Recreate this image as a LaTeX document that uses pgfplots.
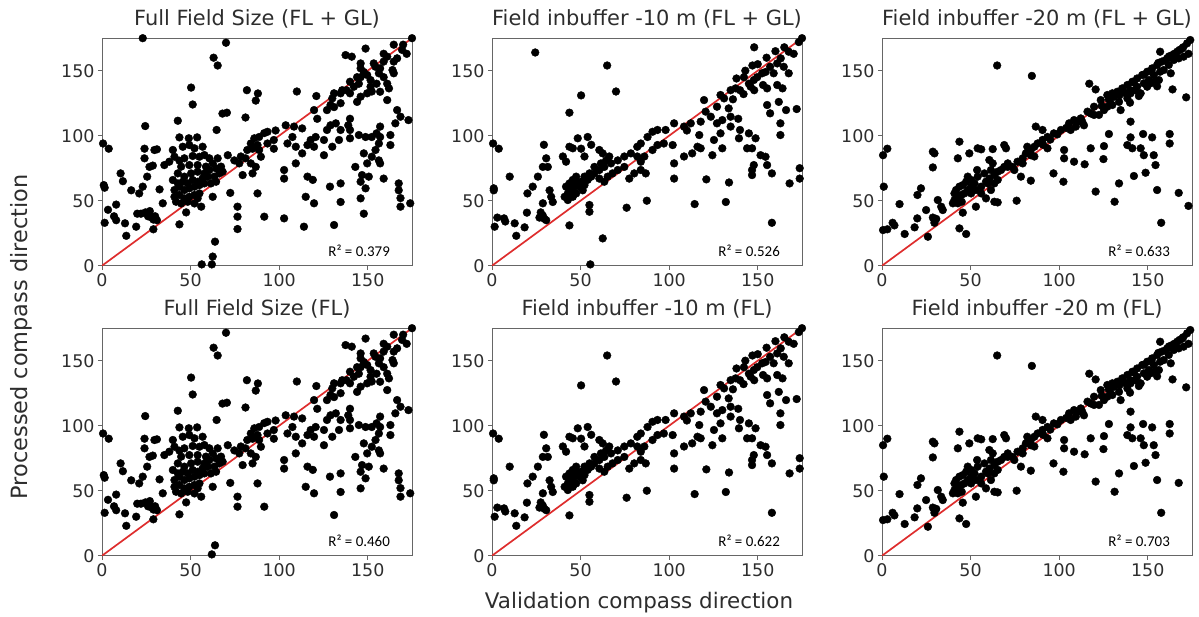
\documentclass[border=0pt]{standalone}
\usepackage{pgfplots}
\usepackage{pgfplotstable}
\pgfplotsset{compat=1.18}
\usepackage{fontspec}
\setmainfont{DejaVu Sans}
\newfontfamily\carlito{Carlito}
\definecolor{fitred}{RGB}{222,45,45}
\definecolor{txt}{RGB}{45,45,45}

% ---------- Panel 1 / 4 common ----------
\pgfplotstableread{
x y
0.6 94
3.8 90
1 62
1.5 60
1.5 33
3.4 43
6.8 38
8 35
8 47
10.5 71
11.8 65
13 32.6
13.7 23
16.5 58
19.3 30
19.9 40
21 55.6
23 60.8
22 40
24 90
24 82.6
24.5 41
25.5 68.5
26.8 76
26 38
27 42
28 37
29 35.5
30 38
31 35
29 28
28.7 77
29.6 89
31 89.5
32.5 58.7
34.3 48
35.2 77.4
38 80
40 89
42.8 111.5
24.4 107.4
43.7 98.7
49 98
53.7 98.7
45.6 91.5
49.3 92.8
52.2 90.3
56.8 91.5
40.9 83.8
43.7 80.8
46.5 82.6
51.2 84.4
55 83.8
57.8 85.1
60.6 82.6
44.7 76.2
49.3 77.4
54 77.4
58.7 76.2
62.5 78.7
65.3 82.6
42.8 71
46.5 68.5
50.3 71
54 72.3
57.8 71
60.6 73.6
64.4 74.9
67.2 76.2
40 65.9
42.8 63.3
45.6 64.6
48.4 63.3
51.2 65.9
54 64.6
56.8 67.2
59.7 68.5
63.4 68.5
66.2 71
68.1 72.3
40.9 58.2
43.7 60.8
46.5 58.2
49.3 59.5
52.2 60.8
55 62
57.8 63.3
61.5 63.3
64.4 64.6
40.9 53
43.7 54.4
46.5 51.8
49.3 53
52.2 54.4
55 55.6
41.8 49.2
44.7 47.9
48.4 49.2
52.2 47.9
54 51.8
47.5 41
62.5 53
56 45.4
72.4 56
76.5 45.4
76.5 37.7
43.7 31.8
50.3 137
51.2 124
63 160
65.3 154
70 171.5
81.8 135
88 132.5
86.8 127
68 117
70.5 117.7
81 114
64.7 104.4
71 85
74.7 81
78.4 84
77.5 78.7
79.4 69.7
82 89
84 94
86 98
88.7 99
91.6 102
93.4 103
87.8 92.8
85 90
81 82.6
84 78.7
88.7 89
89.7 83.8
86.8 76
85 71
87.8 55.6
98 104
97 96.7
97 90
93.4 94
103.7 108
108.4 107
113 105.6
104.7 94
107.5 99
109.4 91.5
102.8 73.6
102.8 67
109.4 78.7
113 86.4
116 92.8
117.8 96.7
120.6 99
116 68.5
119 66
115 53
119.7 48
91.6 37.7
110 134
121 130.5
119.7 119.7
121.5 113
127 119.7
129 123.6
130 128.7
131 132.6
134.7 132.6
135.6 135
138 135
140 132.6
142.2 137.7
145 140
146 145
147.8 149
149.7 146.7
151.6 142.8
146 151.8
148.8 167
154.4 153
157 151.8
156.3 148
159 157
161 160.8
159 163
164.7 170
169.4 166
172 163
164.7 157
164 150.5
166.6 159.5
137.5 162
141 160.8
146 155.6
157 133.8
162 136.4
161 127.4
166.6 119.7
173 112
168.5 114.6
165.6 109.5
157 107
155 101.8
152.3 99
157 99
162.8 100.5
162.8 92.8
156.3 94
154.4 89
152.3 83.8
156.3 81
157 78.7
149.7 78.7
147.8 86.4
148.8 99
145 100.5
143 76
146.8 69.7
150.6 68.5
146 64.6
148.8 59.5
146 51.8
159 67
167.5 63.3
167.5 58
168.5 52
168.5 45.4
174 48
134.7 63.3
134.7 49
131 31.3
128.7 60.8
125.3 85
130 91.5
133.8 96.7
140 98
139 108
140 113
140 104.4
134.7 104.4
132 109.5
129 108
127 104.4
125.3 96.7
119.7 91.5
131 122
134.7 125
144 126
146 130
149.7 132.6
152.3 134
155 140
151.6 137.7
140 141.5
144 145
153.4 155.6
159 145
161 140
164.7 148
175 175
170 170
}\tA
\pgfplotstableread{
x y
23 175
63.8 18.5
62.5 7
56.3 1
62 1
76.5 28.2
114 30
102.8 36.4
147.8 40
}\tAone
\pgfplotstableread{
x y
63.8 8
62 1
}\tAfour

% ---------- Panel 2 / 5 common ----------
\pgfplotstableread{
x y
65 154
70 134
50.3 131
147 154
0.6 94
3.8 90
1 59.5
1 58
1.5 30
3 37
6.8 36.4
7.5 34
10 68.5
12.8 32.6
13.7 23
18.4 29.5
19.7 40.8
20 55.6
23 60.8
25.9 68.5
28.7 76
29.3 93
30.6 82.6
31.5 76
28.7 48
27.5 41
29.6 36
30.6 35
28.7 38.5
26.8 37
32.5 58
33.4 53
34.3 49
40 84
41.8 80
43.7 91.5
45.6 90.3
48.4 98
54 99
50.3 90
52.2 84
56 93
60.6 89
62.5 86.4
66.2 84
43.7 31
55 46.7
55 41.5
76 44.6
87.4 50
102.8 67
102.8 78.7
108.4 84
113 86.4
121 66.4
114.4 47.4
132 49
133.8 64
117 100.5
116 91.5
117.8 90.3
124.4 85
125.3 96.7
130 90.3
134.7 107
139 113
140 104.4
145 101.8
139.4 98
144 90.3
146.8 90.3
148.8 98
151.6 85
154.4 83.8
155.3 77.4
147.8 77.4
146.8 73.6
146.8 69.7
158 71
158 33
168 63.3
173.7 75
173.7 67
172 120.5
162.8 100.5
162.8 109.5
166 119.7
161.9 126
155.3 123.6
157 117.2
155.3 136.4
161 139
164 136.4
167.5 148
170.3 163
173.2 172
167.5 164.6
175 175
41 53
42.8 55.6
44.7 58
46.5 60.8
48.4 63.3
50.3 64.6
52.2 62
54 66
56 68.5
57.8 71
60.6 73.6
63.4 76
67.2 78.7
71 81
74.7 84
78.4 86.4
82 91.5
84 94
87.8 99
90.6 103
93.4 104.4
98 104.4
102.8 109.5
108.4 107
112.2 109.5
110 104
119.7 127.4
120.6 118.5
123.5 114.6
127 122.3
129 131.3
131 128.7
133.6 121
134.7 135
137.5 136.4
140 135
142.2 145
145 140
146 137.7
147.8 142.8
149.7 145
152.5 148
154.4 149
157 153
159 148
161 155.6
163 159.5
164.7 153
127 109.5
130 112
134.7 114.6
129 101.8
117.8 110.8
41.8 60.8
43.7 63.3
45.6 66
47.5 68.5
49.3 60.8
51.2 58
42.8 50.5
45.6 53
47.5 55.6
52.2 68.5
55 71
57.8 76
61.5 78.7
64.4 81
60.6 67
63.4 64.6
65.3 68.5
68 71
71 73.6
74.7 76
77.5 67
84 73.6
86 84
84 80
86.8 71
80.3 71
82 84
90.6 89
93.4 92.8
97 94
102 92.8
150 155
155 160
160 165
165 168
138 144
143 150
136 128
142 132
148 135
153 139
}\tB
\pgfplotstableread{
x y
24.4 164
43.7 117.7
148 168
55.5 1
62.5 21
}\tBtwo

% ---------- Panel 3 / 6 common ----------
\pgfplotstableread{
x y
65 154
84.6 146
117 140
120.6 135.6
163 148
164 135.6
171.7 129.5
157 164.6
0.6 85
3 90
1 60.8
0.6 27.4
3 28
6 33
7 31
9.9 47.4
12.8 24.4
18.4 29.5
19.9 36.4
20 54.4
22 59.5
25.9 22.3
24.9 42.8
28.7 37
29.6 35
30.6 36
29.6 33
28.7 87.7
29.6 86.4
28.7 75.6
31.5 50.5
33.4 45.4
34.3 42.8
43.7 95.4
42.8 82.6
43.7 28.7
47.5 24.4
45.6 40.8
49.3 86.4
54 90.3
56 89.5
62.5 89.7
69 92.8
70 90.3
60.6 81.3
53.7 73.6
53 45.4
58.7 51.8
63.4 49.2
65.3 48.7
76 50
78.4 68.5
84 65.4
86.8 107
90.6 104.4
93.4 90.3
96.8 71
102.4 64.6
102.8 82.6
102.8 89
108.4 80
114.4 78
117.8 90.3
125 82
125.3 92
128.1 101.3
120.6 57
131.3 49.2
133.8 63.3
138.5 92.8
140.3 98.7
140.3 110.8
134.7 119.7
142.2 69
141.3 90.3
146 90.3
147.4 101.3
147.8 85
152.5 98.7
148.8 71.5
154.4 77.4
153.4 85
155.3 58.2
157.6 33
162.4 101.3
162.4 94
167.5 56
145 130.5
140 125.4
155.3 138
156.3 142.8
40.9 55.6
41.8 58.2
43.7 60.8
45.6 62
47.5 64.6
40.9 50.5
42.8 53
44.7 54.4
46.5 55.6
48.4 58.2
50.3 60.8
52.2 63.3
40 48
42.8 48
45 49.2
50.3 55.6
53 58.2
56 60.8
58.7 64.6
60.6 67
63.4 69.7
65.3 72.3
67.2 73.6
69 76
71 78.7
73.7 76
76.5 80
79.4 82.6
81.2 86.4
84 89
86 91.5
87.8 94
90.6 96.7
93.4 99
97 101.8
101 104.4
105.6 109.5
108.4 112
112.2 113.3
116 118.5
119.7 122.3
123.5 127.4
127.2 131.3
130 132.6
132.8 133.8
135.6 136.4
138.5 139
141.3 141.5
144 144
146.9 146.7
149.7 149.2
152.5 151.8
155.3 154.4
158 157
161 159.5
163.8 162
166.6 164.6
169.4 167
172.2 171
174 173.6
131 130
137.5 132.6
140.3 135
144 137.7
147.8 140.3
150.6 142.8
153.4 146.7
157 149.2
159 150.5
161.9 154.4
164.7 158.2
167.5 159.5
170.3 160.8
129 125
133.8 126
138.5 128.7
146 132.6
149.7 137.7
151.6 140.3
154.4 142.8
140.3 132.6
143 135
114 108
113 110.8
109.4 107
106.5 104.4
119.7 116
122.5 116
125.3 119.7
127.2 122.3
130 123.6
82 91.5
84 85
86 84
79.4 78.7
74.7 73.6
71 76
61.5 73.6
62.5 78.7
57.8 71
59.7 63.3
56 55.6
61.5 58.2
63.4 63.3
65.3 66
50.3 65.9
54 68.5
48.4 68.5
156 156
160 158
165 163
170 168
168 166
162 161
152 150
148 147
142 141
136 135
134 131
128 128
124 123
118 117
111 111
104 106
99 101
95 97
91 93
173 163
}\tC
\pgfplotstableread{
x y
173 46
}\tCthree

\pgfplotsset{
  panel/.style={
    width=310bp, height=227.5bp, scale only axis,
    anchor=south west,
    xmin=0, xmax=175, ymin=0, ymax=175,
    xtick={0,50,100,150}, ytick={0,50,100,150},
    tick align=outside, tick pos=left,
    major tick length=4bp,
    axis line style={black!60, line width=0.8bp},
    every tick/.style={black!60, line width=0.8bp},
    ticklabel style={font=\fontsize{17.5}{17.5}\selectfont, text=txt},
    /pgf/number format/assume math mode=true,
    title style={font=\fontsize{21}{21}\selectfont, text=txt, at={(0.5,1)}, anchor=base, yshift=7bp},
  },
  dots/.style={only marks, mark=*, mark size=3.9bp, black, mark options={draw=black, fill=black}},
  fitline/.style={fitred, line width=1.7bp, no marks},
}

\newcommand{\rsq}[1]{\node[font=\carlito\fontsize{15}{15}\selectfont, text=black, anchor=east] at (axis cs:164.5,11.6) {R² = #1};}

\begin{document}
\begin{tikzpicture}[x=1bp,y=1bp]
\path[use as bounding box] (0bp,0bp) rectangle (1199bp,617bp);

% Top row
\begin{axis}[panel, at={(102bp,351.3bp)}, title={Full Field Size (FL + GL)}]
\addplot[dots] table {\tA};
\addplot[dots] table {\tAone};
\addplot[fitline] coordinates {(0,0) (175,175)};
\rsq{0.379}
\end{axis}
\begin{axis}[panel, at={(492bp,351.3bp)}, title={Field inbuffer -10 m (FL + GL)}]
\addplot[dots] table {\tB};
\addplot[dots] table {\tBtwo};
\addplot[fitline] coordinates {(0,0) (175,175)};
\rsq{0.526}
\end{axis}
\begin{axis}[panel, at={(882bp,351.3bp)}, title={Field inbuffer -20 m (FL + GL)}]
\addplot[dots] table {\tC};
\addplot[dots] table {\tCthree};
\addplot[fitline] coordinates {(0,0) (175,175)};
\rsq{0.633}
\end{axis}

% Bottom row
\begin{axis}[panel, at={(102bp,61.3bp)}, title={Full Field Size (FL)}]
\addplot[dots] table {\tA};
\addplot[dots] table {\tAfour};
\addplot[fitline] coordinates {(0,0) (175,175)};
\rsq{0.460}
\end{axis}
\begin{axis}[panel, at={(492bp,61.3bp)}, title={Field inbuffer -10 m (FL)}]
\addplot[dots] table {\tB};
\addplot[fitline] coordinates {(0,0) (175,175)};
\rsq{0.622}
\end{axis}
\begin{axis}[panel, at={(882bp,61.3bp)}, title={Field inbuffer -20 m (FL)}]
\addplot[dots] table {\tC};
\addplot[fitline] coordinates {(0,0) (175,175)};
\rsq{0.703}
\end{axis}

\node[font=\fontsize{21.5}{21.5}\selectfont, text=txt, anchor=base] at (639bp,9bp) {Validation compass direction};
\node[font=\fontsize{22.5}{22.5}\selectfont, text=txt, anchor=base, rotate=90] at (27bp,280bp) {Processed compass direction};
\end{tikzpicture}
\end{document}
